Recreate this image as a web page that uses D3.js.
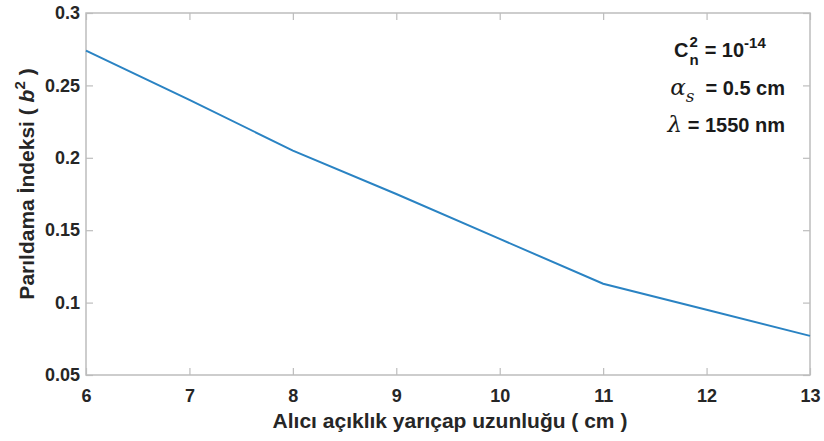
<!DOCTYPE html>
<html>
<head>
<meta charset="utf-8">
<script src="https://cdn.jsdelivr.net/npm/d3@7"></script>
<style>
  body { margin: 0; background: #fff; }
  svg { display: block; font-family: "Liberation Sans", Arial, sans-serif; }
  .tick-label { font-size: 18px; font-weight: bold; fill: #262626; }
  .axis-title { font-size: 21px; font-weight: bold; fill: #262626; }
  .note { font-size: 20px; font-weight: bold; fill: #1a1a1a; }
  .greek { font-family: "DejaVu Serif", "Liberation Serif", serif; font-style: italic; font-weight: normal; }
</style>
</head>
<body>
<svg width="824" height="441"></svg>
<script>
const svg_width = 824;
const svg_height = 441;

// receiver aperture radius (cm) and scintillation index
const radius_cm = [6, 7, 8, 9, 10, 11, 12, 13];
const scint_index = [0.274, 0.240, 0.205, 0.175, 0.144, 0.113, 0.095, 0.077];

const x_ticks = [6, 7, 8, 9, 10, 11, 12, 13];
const y_ticks = [0.05, 0.1, 0.15, 0.2, 0.25, 0.3];
const y_tick_labels = ["0.05", "0.1", "0.15", "0.2", "0.25", "0.3"];

const plot = { left: 86, right: 810, top: 13, bottom: 375 };
const axis_color = "#bdbdbd";
const line_color = "#2a83c3";
const tick_len = 7;

const svg = d3.select("svg");

const x = d3.scaleLinear().domain([6, 13]).range([plot.left, plot.right]);
const y = d3.scaleLinear().domain([0.05, 0.3]).range([plot.bottom, plot.top]);

function drawAxes() {
  // box round the plot area
  svg.append("rect")
    .attr("x", plot.left).attr("y", plot.top)
    .attr("width", plot.right - plot.left).attr("height", plot.bottom - plot.top)
    .attr("fill", "none").attr("stroke", axis_color).attr("stroke-width", 1.5);

  // ticks point inwards on all four sides, like matlab
  const bottom = svg.append("g").attr("transform", `translate(0,${plot.bottom})`)
    .call(d3.axisBottom(x).tickValues(x_ticks).tickSizeInner(-tick_len).tickSizeOuter(0).tickPadding(14)
      .tickFormat(d3.format("d")));
  const top = svg.append("g").attr("transform", `translate(0,${plot.top})`)
    .call(d3.axisTop(x).tickValues(x_ticks).tickSizeInner(-tick_len).tickSizeOuter(0).tickFormat(""));
  const left = svg.append("g").attr("transform", `translate(${plot.left},0)`)
    .call(d3.axisLeft(y).tickValues(y_ticks).tickSizeInner(-tick_len).tickSizeOuter(0).tickPadding(6)
      .tickFormat((d, i) => y_tick_labels[i]));
  const right = svg.append("g").attr("transform", `translate(${plot.right},0)`)
    .call(d3.axisRight(y).tickValues(y_ticks).tickSizeInner(-tick_len).tickSizeOuter(0).tickFormat(""));

  [bottom, top, left, right].forEach(function (g) {
    g.select(".domain").remove();
    g.selectAll(".tick line").attr("stroke", axis_color).attr("stroke-width", 1.2);
    g.selectAll(".tick text").attr("class", "tick-label").attr("fill", null);
  });
}

function drawLine() {
  const line = d3.line().x((d, i) => x(radius_cm[i])).y(d => y(d));
  svg.append("path")
    .datum(scint_index)
    .attr("d", line)
    .attr("fill", "none")
    .attr("stroke", line_color)
    .attr("stroke-width", 2);
}

function drawTitles() {
  svg.append("text")
    .attr("class", "axis-title")
    .attr("x", (plot.left + plot.right) / 2 + 2)
    .attr("y", 428)
    .attr("text-anchor", "middle")
    .text("Alıcı açıklık yarıçap uzunluğu ( cm )");

  const ylab = svg.append("text")
    .attr("class", "axis-title")
    .attr("transform", `translate(34,${(plot.top + plot.bottom) / 2 - 10}) rotate(-90)`)
    .attr("text-anchor", "middle");
  ylab.append("tspan").text("Parıldama İndeksi ( ");
  ylab.append("tspan").attr("font-style", "italic").text("b");
  ylab.append("tspan").attr("dy", -9).attr("font-size", 15).text("2");
  ylab.append("tspan").attr("dy", 9).text(" )");
}

// put a piece of text at x, return where the next piece should start
function putText(str, px, py, size) {
  const t = svg.append("text").attr("class", "note")
    .attr("x", px).attr("y", py).style("font-size", size + "px").text(str);
  return px + t.node().getComputedTextLength();
}

function drawNote() {
  const right_edge = 785;

  // C_n^2 = 10^-14, with the 2 stacked over the n
  const base = 57;
  let cx = putText("C", 674, base, 20) + 1;
  const after_sup = putText("2", cx, base - 10, 15);
  const after_sub = putText("n", cx, base + 8, 15);
  cx = Math.max(after_sup, after_sub) + 6;
  cx = putText("= 10", cx, base, 20);
  putText("-14", cx, base - 9, 15);

  const l2 = svg.append("text").attr("class", "note").attr("x", right_edge).attr("y", 95).attr("text-anchor", "end");
  l2.append("tspan").attr("class", "greek").attr("font-size", 23).text("α");
  l2.append("tspan").attr("class", "greek").attr("dy", 7).attr("font-size", 17).text("s");
  l2.append("tspan").attr("dy", -7).attr("dx", 11).text("= 0.5 cm");

  const l3 = svg.append("text").attr("class", "note").attr("x", right_edge).attr("y", 132).attr("text-anchor", "end");
  l3.append("tspan").attr("class", "greek").attr("font-size", 23).text("λ");
  l3.append("tspan").text(" = 1550 nm");
}

drawAxes();
drawLine();
drawTitles();
drawNote();
</script>
</body>
</html>
